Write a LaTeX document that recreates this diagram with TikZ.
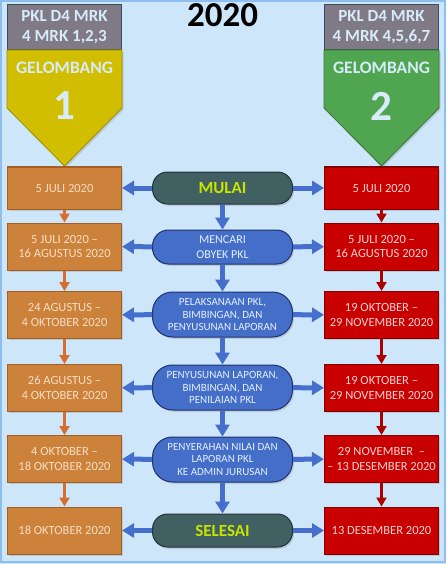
\documentclass[tikz,border=0pt]{standalone}
\usepackage{fontspec}
\setmainfont{Carlito}
\usepackage{tikz}
\usetikzlibrary{arrows.meta,shadows}

\definecolor{bgblue}{RGB}{205,230,250}
\definecolor{bgedge}{RGB}{140,190,238}
\definecolor{hdrgray}{RGB}{128,122,134}
\definecolor{hdrline}{RGB}{60,75,95}
\definecolor{lighttext}{RGB}{215,235,250}
\definecolor{waveyellow}{RGB}{210,190,0}
\definecolor{wavegreen}{RGB}{80,165,80}
\definecolor{datebrown}{RGB}{205,130,60}
\definecolor{datebrownline}{RGB}{165,95,35}
\definecolor{datebrowntext}{RGB}{248,222,195}
\definecolor{datered}{RGB}{200,0,0}
\definecolor{dateredline}{RGB}{130,0,0}
\definecolor{dateredtext}{RGB}{250,210,210}
\definecolor{stepblue}{RGB}{68,110,200}
\definecolor{stepblueline}{RGB}{30,50,110}
\definecolor{stepbluetext}{RGB}{228,240,255}
\definecolor{slate}{RGB}{64,96,98}
\definecolor{slateline}{RGB}{40,50,60}
\definecolor{limetext}{RGB}{200,228,0}
\definecolor{arrowblue}{RGB}{70,110,205}
\definecolor{arroworange}{RGB}{215,110,45}
\definecolor{arrowred}{RGB}{175,0,0}

\newcommand{\titlefont}{\fontsize{35}{35}\selectfont\bfseries}
\newcommand{\hdrfont}{\fontsize{17}{20}\selectfont\bfseries}
\newcommand{\wavefont}{\fontsize{17.5}{18}\selectfont\bfseries}
\newcommand{\wavenumfont}{\fontsize{43}{43}\selectfont\bfseries}
\newcommand{\datefont}{\fontsize{12.5}{14.5}\selectfont}
\newcommand{\stepfont}{\fontsize{11}{12.8}\selectfont}
\newcommand{\startstopfont}{\fontsize{17}{20}\selectfont\bfseries}

\begin{document}
\begin{tikzpicture}[
  x=1pt, y=-1pt,
  softshadow/.style={drop shadow={opacity=0.28, shadow xshift=1.5pt, shadow yshift=-1.8pt}},
  hdrbox/.style={draw=hdrline, line width=1pt, fill=hdrgray, text=lighttext, font=\hdrfont, align=center, minimum width=114pt, minimum height=45pt, inner sep=1pt},
  wavebox/.style={line width=0.8pt, softshadow},
  wavetext/.style={text=lighttext, font=\wavefont},
  wavenum/.style={text=lighttext, font=\wavenumfont},
  datebox/.style={draw, line width=1pt, minimum width=114pt, minimum height=47pt, align=center, font=\datefont, inner sep=1pt, softshadow},
  leftbox/.style={datebox, fill=datebrown, draw=datebrownline, text=datebrowntext},
  rightbox/.style={datebox, fill=datered, draw=dateredline, text=dateredtext},
  stepbox/.style={draw=stepblueline, line width=1pt, fill=stepblue, text=stepbluetext, rounded corners=20pt, minimum width=140pt, minimum height=45pt, align=center, font=\stepfont, inner sep=1pt, softshadow},
  endbox/.style={stepbox, fill=slate, draw=slateline, text=limetext, font=\startstopfont, rounded corners=15pt, minimum height=32pt},
  bluearrow/.style={-{Triangle[width=14pt,length=12pt]}, line width=5pt, draw=arrowblue},
  brownarrow/.style={-{Triangle[width=10pt,length=9pt]}, line width=2.6pt, draw=arroworange},
  redarrow/.style={-{Triangle[width=10pt,length=9pt]}, line width=2.6pt, draw=arrowred}
]

\useasboundingbox (0,0) rectangle (446,564);
\fill[bgblue] (0,0) rectangle (446,564);
\draw[bgedge, line width=1.5pt] (1,1) rectangle (445,562);

\node[font=\titlefont] (title) at (222.5,15) {2020};

% gelombang 1
\node[hdrbox] (hdrA) at (64.5,27.5) {PKL D4 MRK\\4 MRK 1,2,3};
\draw[wavebox, fill=waveyellow, draw=waveyellow!75!black] (7,50) -- (122,50) -- (122,108) -- (64.5,166) -- (7,108) -- cycle;
\node[wavetext] (waveAname) at (64.5,68) {GELOMBANG};
\node[wavenum] (waveAnum) at (64.5,106) {1};

% gelombang 2
\node[hdrbox] (hdrB) at (381.5,27.5) {PKL D4 MRK\\4 MRK 4,5,6,7};
\draw[wavebox, fill=wavegreen, draw=wavegreen!70!black] (324,50) -- (439,50) -- (439,108) -- (381.5,166) -- (324,108) -- cycle;
\node[wavetext] (waveBname) at (381.5,68) {GELOMBANG};
\node[wavenum] (waveBnum) at (381.5,106) {2};

% tahapan
\node[endbox] (mulai) at (222.5,188) {MULAI};
\node[stepbox, minimum height=34pt, rounded corners=16pt, font=\fontsize{12}{15}\selectfont] (cari) at (222.5,247) {MENCARI\\OBYEK PKL};
\node[stepbox] (laksana) at (222.5,314.5) {PELAKSANAAN PKL,\\BIMBINGAN, DAN\\PENYUSUNAN LAPORAN};
\node[stepbox] (susun) at (222.5,387.5) {PENYUSUNAN LAPORAN,\\BIMBINGAN, DAN\\PENILAIAN PKL};
\node[stepbox] (serah) at (222.5,459.5) {PENYERAHAN NILAI DAN\\LAPORAN PKL\\KE ADMIN JURUSAN};
\node[endbox, minimum height=33pt] (selesai) at (222.5,530.5) {SELESAI};

% jadwal gelombang 1
\node[leftbox, minimum height=42pt] (dateA1) at (64.5,188) {5 JULI 2020};
\node[leftbox] (dateA2) at (64.5,246.5) {5 JULI 2020 --\\16 AGUSTUS 2020};
\node[leftbox] (dateA3) at (64.5,315) {24 AGUSTUS --\\4 OKTOBER 2020};
\node[leftbox] (dateA4) at (64.5,388) {26 AGUSTUS --\\4 OKTOBER 2020};
\node[leftbox] (dateA5) at (64.5,459) {4 OKTOBER --\\18 OKTOBER 2020};
\node[leftbox] (dateA6) at (64.5,530.5) {18 OKTOBER 2020};

% jadwal gelombang 2
\node[rightbox, minimum height=42pt] (dateB1) at (381.5,188) {5 JULI 2020};
\node[rightbox] (dateB2) at (381.5,246.5) {5 JULI 2020 --\\16 AGUSTUS 2020};
\node[rightbox] (dateB3) at (381.5,315) {19 OKTOBER --\\29 NOVEMBER 2020};
\node[rightbox] (dateB4) at (381.5,388) {19 OKTOBER --\\29 NOVEMBER 2020};
\node[rightbox] (dateB5) at (381.5,459) {29 NOVEMBER~ --\\-- 13 DESEMBER 2020};
\node[rightbox] (dateB6) at (381.5,530.5) {13 DESEMBER 2020};

\draw[bluearrow] (mulai) -- (dateA1);
\draw[bluearrow] (mulai) -- (dateB1);
\draw[bluearrow] (cari) -- (dateA2);
\draw[bluearrow] (cari) -- (dateB2);
\draw[bluearrow] (laksana) -- (dateA3);
\draw[bluearrow] (laksana) -- (dateB3);
\draw[bluearrow] (susun) -- (dateA4);
\draw[bluearrow] (susun) -- (dateB4);
\draw[bluearrow] (serah) -- (dateA5);
\draw[bluearrow] (serah) -- (dateB5);
\draw[bluearrow] (selesai) -- (dateA6);
\draw[bluearrow] (selesai) -- (dateB6);

\draw[bluearrow] (mulai) -- (cari);
\draw[bluearrow] (cari) -- (laksana);
\draw[bluearrow] (laksana) -- (susun);
\draw[bluearrow] (susun) -- (serah);
\draw[bluearrow] (serah) -- (selesai);

\draw[brownarrow] (dateA1) -- (dateA2);
\draw[brownarrow] (dateA2) -- (dateA3);
\draw[brownarrow] (dateA3) -- (dateA4);
\draw[brownarrow] (dateA4) -- (dateA5);
\draw[brownarrow] (dateA5) -- (dateA6);

\draw[redarrow] (dateB1) -- (dateB2);
\draw[redarrow] (dateB2) -- (dateB3);
\draw[redarrow] (dateB3) -- (dateB4);
\draw[redarrow] (dateB4) -- (dateB5);
\draw[redarrow] (dateB5) -- (dateB6);

\end{tikzpicture}
\end{document}
